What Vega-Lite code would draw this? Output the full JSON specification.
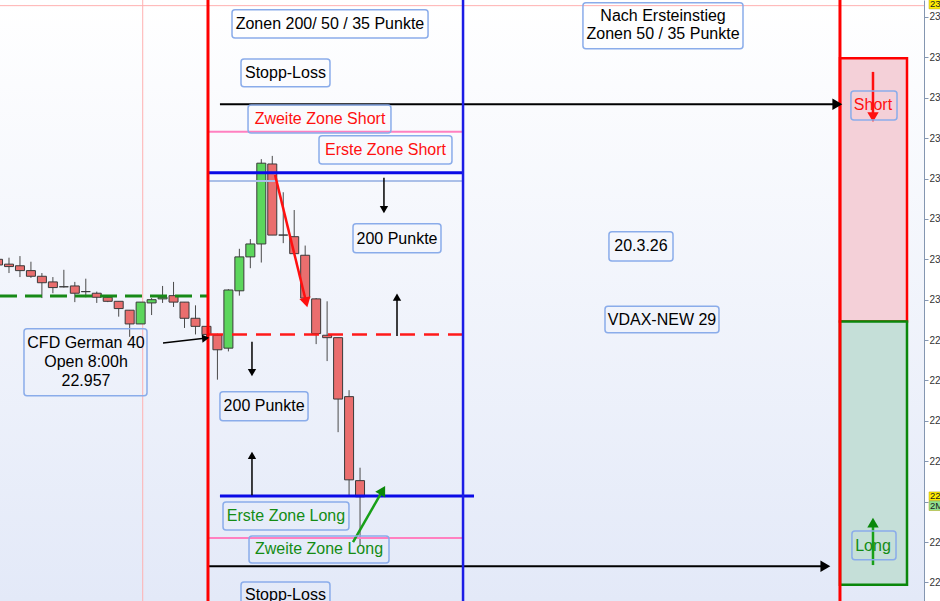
{
  "$schema": "https://vega.github.io/schema/vega-lite/v6.json",
  "width": 924,
  "height": 601,
  "autosize": {"type": "none"},
  "padding": {"left": 0, "top": 0, "right": 16, "bottom": 0},
  "background": "#ffffff",
  "config": {"view": {"stroke": null}, "font": "Liberation Sans", "scale": {"continuousPadding": 0}},
  "resolve": {"scale": {"color": "independent", "fill": "independent", "stroke": "independent"}},
  "datasets": {
    "bg": [{"x": -0.82, "x2": 83.41, "y": 22627, "y2": 23371}],
    "candles": [
      {"i": -1, "o": 23050, "h": 23055, "l": 23040, "c": 23043, "dir": "down"},
      {"i": 0, "o": 23044, "h": 23052, "l": 23033, "c": 23041, "dir": "down"},
      {"i": 1, "o": 23042, "h": 23054, "l": 23028, "c": 23036, "dir": "down"},
      {"i": 2, "o": 23036, "h": 23047, "l": 23027, "c": 23029, "dir": "down"},
      {"i": 3, "o": 23029, "h": 23033, "l": 23002, "c": 23021, "dir": "down"},
      {"i": 4, "o": 23022, "h": 23028, "l": 23008, "c": 23015, "dir": "down"},
      {"i": 5, "o": 23016, "h": 23037, "l": 23015, "c": 23016, "dir": "flat"},
      {"i": 6, "o": 23017, "h": 23022, "l": 22997, "c": 23008, "dir": "down"},
      {"i": 7, "o": 23010, "h": 23026, "l": 23003, "c": 23010, "dir": "flat"},
      {"i": 8, "o": 23008, "h": 23010, "l": 22996, "c": 23003, "dir": "down"},
      {"i": 9, "o": 23003, "h": 23005, "l": 22997, "c": 22998, "dir": "down"},
      {"i": 10, "o": 22998, "h": 22998, "l": 22979, "c": 22989, "dir": "down"},
      {"i": 11, "o": 22987, "h": 22987, "l": 22954, "c": 22970, "dir": "down"},
      {"i": 12, "o": 22970, "h": 22997, "l": 22970, "c": 22997, "dir": "up"},
      {"i": 13, "o": 22996, "h": 23002, "l": 22981, "c": 23000, "dir": "up"},
      {"i": 14, "o": 23001, "h": 23017, "l": 22996, "c": 23003, "dir": "up"},
      {"i": 15, "o": 23005, "h": 23022, "l": 22991, "c": 22997, "dir": "down"},
      {"i": 16, "o": 22997, "h": 22997, "l": 22965, "c": 22977, "dir": "down"},
      {"i": 17, "o": 22977, "h": 22993, "l": 22957, "c": 22967, "dir": "down"},
      {"i": 18, "o": 22967, "h": 22967, "l": 22952, "c": 22957, "dir": "down"},
      {"i": 19, "o": 22956, "h": 22958, "l": 22901, "c": 22938, "dir": "down"},
      {"i": 20, "o": 22940, "h": 23013, "l": 22936, "c": 23012, "dir": "up"},
      {"i": 21, "o": 23011, "h": 23063, "l": 23005, "c": 23053, "dir": "up"},
      {"i": 22, "o": 23053, "h": 23075, "l": 23039, "c": 23069, "dir": "up"},
      {"i": 23, "o": 23069, "h": 23174, "l": 23046, "c": 23169, "dir": "up"},
      {"i": 24, "o": 23168, "h": 23178, "l": 23080, "c": 23080, "dir": "down"},
      {"i": 25, "o": 23080, "h": 23133, "l": 23070, "c": 23080, "dir": "flat"},
      {"i": 26, "o": 23078, "h": 23111, "l": 23057, "c": 23057, "dir": "down"},
      {"i": 27, "o": 23055, "h": 23067, "l": 23002, "c": 23002, "dir": "down"},
      {"i": 28, "o": 23001, "h": 23002, "l": 22945, "c": 22958, "dir": "down"},
      {"i": 29, "o": 22956, "h": 22998, "l": 22924, "c": 22953, "dir": "down"},
      {"i": 30, "o": 22953, "h": 22953, "l": 22836, "c": 22877, "dir": "down"},
      {"i": 31, "o": 22880, "h": 22888, "l": 22756, "c": 22777, "dir": "down"},
      {"i": 32, "o": 22776, "h": 22792, "l": 22696, "c": 22756, "dir": "down"}
    ],
    "zones": [
      {"zone": "Short", "x": 75.75, "x2": 81.86, "y": 22973, "y2": 23299},
      {"zone": "Long", "x": 75.75, "x2": 81.86, "y": 22647, "y2": 22973}
    ],
    "hlines": [
      {"kind": "greenDash", "x": -0.82, "x2": 18.14, "y": 23004.7},
      {"kind": "redDash", "x": 18.14, "x2": 41.39, "y": 22957},
      {"kind": "lightblue", "x": 18.14, "x2": 41.39, "y": 23147},
      {"kind": "pink", "x": 18.14, "x2": 41.39, "y": 23208},
      {"kind": "pink", "x": 18.14, "x2": 41.39, "y": 22705},
      {"kind": "blue", "x": 18.14, "x2": 41.39, "y": 23157},
      {"kind": "blue", "x": 19.23, "x2": 42.39, "y": 22757},
      {"kind": "black", "x": 19.23, "x2": 75.3, "y": 23242},
      {"kind": "black", "x": 18.14, "x2": 74.2, "y": 22670}
    ],
    "vlines": [
      {"kind": "red", "x": 18.14},
      {"kind": "blue", "x": 41.39},
      {"kind": "red", "x": 75.75}
    ],
    "cross": [{"x": 12.19, "y": 23364}],
    "arrows": [
      {"tone": "black", "x": 34.18, "y": 23151, "x2": 34.18, "y2": 23113},
      {"tone": "black", "x": 35.37, "y": 22955, "x2": 35.37, "y2": 23001},
      {"tone": "black", "x": 22.15, "y": 22948, "x2": 22.15, "y2": 22911},
      {"tone": "black", "x": 22.15, "y": 22758, "x2": 22.15, "y2": 22806},
      {"tone": "black", "x": 14.04, "y": 22946.5, "x2": 17.82, "y2": 22952.2},
      {"tone": "red", "x": 24.25, "y": 23154.5, "x2": 27.05, "y2": 22999},
      {"tone": "green", "x": 31.36, "y": 22700, "x2": 33.99, "y2": 22762},
      {"tone": "red", "x": 78.76, "y": 23282, "x2": 78.76, "y2": 23228},
      {"tone": "green", "x": 78.76, "y": 22671.5, "x2": 78.76, "y2": 22722}
    ],
    "heads": [
      {"tone": "black", "head": "small", "x": 34.18, "y": 23113, "angle": 180},
      {"tone": "black", "head": "small", "x": 35.37, "y": 23001.6, "angle": 0},
      {"tone": "black", "head": "small", "x": 22.15, "y": 22911.2, "angle": 180},
      {"tone": "black", "head": "small", "x": 22.15, "y": 22805.9, "angle": 0},
      {"tone": "black", "head": "small", "x": 17.82, "y": 22952.2, "angle": 84},
      {"tone": "red", "head": "big", "x": 27.05, "y": 22998.7, "angle": 166},
      {"tone": "green", "head": "big", "x": 33.99, "y": 22762.3, "angle": 30},
      {"tone": "red", "head": "big", "x": 78.76, "y": 23228, "angle": 180},
      {"tone": "green", "head": "big", "x": 78.76, "y": 22722, "angle": 0},
      {"tone": "black", "head": "big", "x": 75.36, "y": 23242, "angle": 90},
      {"tone": "black", "head": "big", "x": 74.27, "y": 22670, "angle": 90}
    ],
    "boxes": [
      {"x": 20.33, "x2": 38.2, "y": 23359, "y2": 23324},
      {"x": 21.15, "x2": 29.26, "y": 23298, "y2": 23263.5},
      {"x": 21.79, "x2": 34.82, "y": 23241, "y2": 23206.5},
      {"x": 28.26, "x2": 40.38, "y": 23203, "y2": 23168},
      {"x": 31.36, "x2": 39.38, "y": 23094, "y2": 23058},
      {"x": 54.69, "x2": 60.53, "y": 23084, "y2": 23048},
      {"x": 54.33, "x2": 64.72, "y": 22992, "y2": 22959},
      {"x": 52.32, "x2": 66.91, "y": 23367.5, "y2": 23310.6},
      {"x": 1.367, "x2": 12.58, "y": 22964, "y2": 22881},
      {"x": 19.23, "x2": 27.26, "y": 22886, "y2": 22850},
      {"x": 19.51, "x2": 30.99, "y": 22749.6, "y2": 22715},
      {"x": 21.88, "x2": 34.64, "y": 22707.5, "y2": 22674},
      {"x": 21.15, "x2": 29.26, "y": 22650.5, "y2": 22610},
      {"x": 76.75, "x2": 80.95, "y": 23258.5, "y2": 23222.6},
      {"x": 76.84, "x2": 80.86, "y": 22713.7, "y2": 22678}
    ],
    "texts": [
      {"x": 29.26, "y": 23341.5, "text": "Zonen 200/ 50 / 35 Punkte", "tone": "black"},
      {"x": 25.2, "y": 23281, "text": "Stopp-Loss", "tone": "black"},
      {"x": 28.35, "y": 23224, "text": "Zweite Zone Short", "tone": "red"},
      {"x": 34.32, "y": 23185.5, "text": "Erste Zone Short", "tone": "red"},
      {"x": 35.37, "y": 23075, "text": "200 Punkte", "tone": "black"},
      {"x": 57.61, "y": 23067, "text": "20.3.26", "tone": "black"},
      {"x": 59.53, "y": 22975, "text": "VDAX-NEW 29", "tone": "black"},
      {"x": 59.62, "y": 23351, "text": "Nach Ersteinstieg", "tone": "black"},
      {"x": 59.62, "y": 23329, "text": "Zonen 50 / 35 Punkte", "tone": "black"},
      {"x": 7.02, "y": 22946.5, "text": "CFD German 40", "tone": "black"},
      {"x": 7.02, "y": 22923, "text": "Open 8:00h", "tone": "black"},
      {"x": 7.02, "y": 22899, "text": "22.957", "tone": "black"},
      {"x": 23.25, "y": 22868.5, "text": "200 Punkte", "tone": "black"},
      {"x": 25.25, "y": 22732, "text": "Erste Zone Long", "tone": "green"},
      {"x": 28.26, "y": 22691, "text": "Zweite Zone Long", "tone": "green"},
      {"x": 25.2, "y": 22634, "text": "Stopp-Loss", "tone": "black"},
      {"x": 78.76, "y": 23241, "text": "Short", "tone": "red"},
      {"x": 78.76, "y": 22695, "text": "Long", "tone": "green"}
    ],
    "markers": [
      {"kind": "yellow", "x": 83.87, "x2": 85.6, "y": 23373, "y2": 23360, "label": "23.365", "ty": 23366},
      {"kind": "yellow", "x": 83.87, "x2": 85.6, "y": 22762, "y2": 22751.5, "label": "22.757", "ty": 22756.5},
      {"kind": "green", "x": 83.87, "x2": 85.6, "y": 22751, "y2": 22739, "label": "2M", "ty": 22745}
    ]
  },
  "layer": [
    {
      "data": {"name": "bg"},
      "mark": {"type": "rect", "color": {"gradient": "linear", "x1": 0, "y1": 0, "x2": 0, "y2": 1, "stops": [{"offset": 0, "color": "#ffffff"}, {"offset": 1, "color": "#e3e9f8"}]}},
      "encoding": {
        "x": {"field": "x", "type": "quantitative", "scale": {"domain": [-0.82, 83.41], "nice": false, "zero": false, "padding": 0}, "axis": null},
        "x2": {"field": "x2"},
        "y": {"field": "y", "type": "quantitative", "scale": {"domain": [22627, 23371], "nice": false, "zero": false, "padding": 0},
          "axis": {"orient": "right", "values": [22650, 22700, 22750, 22800, 22850, 22900, 22950, 23000, 23050, 23100, 23150, 23200, 23250, 23300, 23350],
            "grid": false, "domainColor": "#8496b0", "tickColor": "#8496b0", "tickSize": 4, "labelFontSize": 10, "labelColor": "#333333",
            "labelPadding": 1, "labelFont": "Liberation Sans", "labelOverlap": false, "labelBound": false, "title": null,
            "labelExpr": "datum.value == 22750 ? '' : replace(format(datum.value, ','), ',', '.')"}},
        "y2": {"field": "y2"}
      }
    },
    {
      "data": {"name": "cross"},
      "mark": {"type": "rule", "color": "#ffb0b0", "strokeWidth": 1},
      "encoding": {"x": {"field": "x", "type": "quantitative", "scale": {"domain": [-0.82, 83.41], "nice": false, "zero": false, "padding": 0}, "axis": null}}
    },
    {
      "data": {"name": "cross"},
      "mark": {"type": "rule", "color": "#ffb0b0", "strokeWidth": 1},
      "encoding": {"y": {"field": "y", "type": "quantitative", "scale": {"domain": [22627, 23371], "nice": false, "zero": false, "padding": 0}}}
    },
    {
      "data": {"name": "zones"},
      "mark": {"type": "rect", "strokeWidth": 2.5},
      "encoding": {
        "x": {"field": "x", "type": "quantitative", "scale": {"domain": [-0.82, 83.41], "nice": false, "zero": false, "padding": 0}, "axis": null},
        "x2": {"field": "x2"},
        "y": {"field": "y", "type": "quantitative", "scale": {"domain": [22627, 23371], "nice": false, "zero": false, "padding": 0}},
        "y2": {"field": "y2"},
        "fill": {"field": "zone", "type": "nominal", "scale": {"domain": ["Short", "Long"], "range": ["#f4d0d8", "#c5dfd8"]}, "legend": null},
        "stroke": {"field": "zone", "type": "nominal", "scale": {"domain": ["Short", "Long"], "range": ["#ff0000", "#0a870a"]}, "legend": null}
      }
    },
    {
      "data": {"name": "candles"},
      "mark": {"type": "rule", "color": "#4a4a4a", "strokeWidth": 1, "clip": true},
      "encoding": {
        "x": {"field": "i", "type": "quantitative", "scale": {"domain": [-0.82, 83.41], "nice": false, "zero": false, "padding": 0}, "axis": null},
        "y": {"field": "l", "type": "quantitative", "scale": {"domain": [22627, 23371], "nice": false, "zero": false, "padding": 0}},
        "y2": {"field": "h"}
      }
    },
    {
      "data": {"name": "candles"},
      "mark": {"type": "bar", "orient": "vertical", "size": 9, "stroke": "#3a3a3a", "strokeWidth": 1, "clip": true},
      "encoding": {
        "x": {"field": "i", "type": "quantitative", "scale": {"domain": [-0.82, 83.41], "nice": false, "zero": false, "padding": 0}, "axis": null},
        "y": {"field": "o", "type": "quantitative", "scale": {"domain": [22627, 23371], "nice": false, "zero": false, "padding": 0}},
        "y2": {"field": "c"},
        "fill": {"field": "dir", "type": "nominal", "scale": {"domain": ["up", "down", "flat"], "range": ["#5cd65c", "#ea6e6e", "#333333"]}, "legend": null}
      }
    },
    {
      "data": {"name": "hlines"},
      "transform": [{"filter": "datum.kind == 'greenDash'"}],
      "mark": {"type": "rule", "color": "#178a17", "strokeWidth": 3, "strokeDash": [17, 8]},
      "encoding": {"x": {"field": "x", "type": "quantitative", "scale": {"domain": [-0.82, 83.41], "nice": false, "zero": false, "padding": 0}, "axis": null}, "x2": {"field": "x2"}, "y": {"field": "y", "type": "quantitative", "scale": {"domain": [22627, 23371], "nice": false, "zero": false, "padding": 0}}}
    },
    {
      "data": {"name": "hlines"},
      "transform": [{"filter": "datum.kind == 'redDash'"}],
      "mark": {"type": "rule", "color": "#ff1a1a", "strokeWidth": 2.5, "strokeDash": [15, 9]},
      "encoding": {"x": {"field": "x", "type": "quantitative", "scale": {"domain": [-0.82, 83.41], "nice": false, "zero": false, "padding": 0}, "axis": null}, "x2": {"field": "x2"}, "y": {"field": "y", "type": "quantitative", "scale": {"domain": [22627, 23371], "nice": false, "zero": false, "padding": 0}}}
    },
    {
      "data": {"name": "hlines"},
      "transform": [{"filter": "datum.kind == 'lightblue'"}],
      "mark": {"type": "rule", "color": "#aabfe8", "strokeWidth": 2},
      "encoding": {"x": {"field": "x", "type": "quantitative", "scale": {"domain": [-0.82, 83.41], "nice": false, "zero": false, "padding": 0}, "axis": null}, "x2": {"field": "x2"}, "y": {"field": "y", "type": "quantitative", "scale": {"domain": [22627, 23371], "nice": false, "zero": false, "padding": 0}}}
    },
    {
      "data": {"name": "hlines"},
      "transform": [{"filter": "datum.kind == 'pink'"}],
      "mark": {"type": "rule", "color": "#ff80c0", "strokeWidth": 2},
      "encoding": {"x": {"field": "x", "type": "quantitative", "scale": {"domain": [-0.82, 83.41], "nice": false, "zero": false, "padding": 0}, "axis": null}, "x2": {"field": "x2"}, "y": {"field": "y", "type": "quantitative", "scale": {"domain": [22627, 23371], "nice": false, "zero": false, "padding": 0}}}
    },
    {
      "data": {"name": "hlines"},
      "transform": [{"filter": "datum.kind == 'blue'"}],
      "mark": {"type": "rule", "color": "#0a0ae6", "strokeWidth": 3},
      "encoding": {"x": {"field": "x", "type": "quantitative", "scale": {"domain": [-0.82, 83.41], "nice": false, "zero": false, "padding": 0}, "axis": null}, "x2": {"field": "x2"}, "y": {"field": "y", "type": "quantitative", "scale": {"domain": [22627, 23371], "nice": false, "zero": false, "padding": 0}}}
    },
    {
      "data": {"name": "hlines"},
      "transform": [{"filter": "datum.kind == 'black'"}],
      "mark": {"type": "rule", "color": "#000000", "strokeWidth": 2},
      "encoding": {"x": {"field": "x", "type": "quantitative", "scale": {"domain": [-0.82, 83.41], "nice": false, "zero": false, "padding": 0}, "axis": null}, "x2": {"field": "x2"}, "y": {"field": "y", "type": "quantitative", "scale": {"domain": [22627, 23371], "nice": false, "zero": false, "padding": 0}}}
    },
    {
      "data": {"name": "vlines"},
      "transform": [{"filter": "datum.kind == 'red'"}],
      "mark": {"type": "rule", "color": "#ff0000", "strokeWidth": 3},
      "encoding": {"x": {"field": "x", "type": "quantitative", "scale": {"domain": [-0.82, 83.41], "nice": false, "zero": false, "padding": 0}, "axis": null}}
    },
    {
      "data": {"name": "vlines"},
      "transform": [{"filter": "datum.kind == 'blue'"}],
      "mark": {"type": "rule", "color": "#1c1ce6", "strokeWidth": 2.5},
      "encoding": {"x": {"field": "x", "type": "quantitative", "scale": {"domain": [-0.82, 83.41], "nice": false, "zero": false, "padding": 0}, "axis": null}}
    },
    {
      "data": {"name": "arrows"},
      "transform": [{"filter": "datum.tone == 'black'"}],
      "mark": {"type": "rule", "color": "#000000", "strokeWidth": 1.5},
      "encoding": {"x": {"field": "x", "type": "quantitative", "scale": {"domain": [-0.82, 83.41], "nice": false, "zero": false, "padding": 0}, "axis": null}, "x2": {"field": "x2"}, "y": {"field": "y", "type": "quantitative", "scale": {"domain": [22627, 23371], "nice": false, "zero": false, "padding": 0}}, "y2": {"field": "y2"}}
    },
    {
      "data": {"name": "arrows"},
      "transform": [{"filter": "datum.tone == 'red'"}],
      "mark": {"type": "rule", "strokeWidth": 2.5, "color": "#ff1010"},
      "encoding": {"x": {"field": "x", "type": "quantitative", "scale": {"domain": [-0.82, 83.41], "nice": false, "zero": false, "padding": 0}, "axis": null}, "x2": {"field": "x2"}, "y": {"field": "y", "type": "quantitative", "scale": {"domain": [22627, 23371], "nice": false, "zero": false, "padding": 0}}, "y2": {"field": "y2"}}
    },
    {
      "data": {"name": "arrows"},
      "transform": [{"filter": "datum.tone == 'green'"}],
      "mark": {"type": "rule", "strokeWidth": 2.5, "color": "#18a018"},
      "encoding": {"x": {"field": "x", "type": "quantitative", "scale": {"domain": [-0.82, 83.41], "nice": false, "zero": false, "padding": 0}, "axis": null}, "x2": {"field": "x2"}, "y": {"field": "y", "type": "quantitative", "scale": {"domain": [22627, 23371], "nice": false, "zero": false, "padding": 0}}, "y2": {"field": "y2"}}
    },
    {
      "data": {"name": "heads"},
      "transform": [{"filter": "datum.head == 'small'"}],
      "mark": {"type": "point", "shape": "triangle", "filled": true, "size": 70, "color": "#000000", "opacity": 1},
      "encoding": {
        "x": {"field": "x", "type": "quantitative", "scale": {"domain": [-0.82, 83.41], "nice": false, "zero": false, "padding": 0}, "axis": null},
        "y": {"field": "y", "type": "quantitative", "scale": {"domain": [22627, 23371], "nice": false, "zero": false, "padding": 0}},
        "angle": {"field": "angle", "type": "quantitative", "scale": {"domain": [0, 360], "range": [0, 360]}}
      }
    },
    {
      "data": {"name": "heads"},
      "transform": [{"filter": "datum.head == 'big'"}],
      "mark": {"type": "point", "shape": "triangle", "filled": true, "size": 130, "opacity": 1},
      "encoding": {
        "x": {"field": "x", "type": "quantitative", "scale": {"domain": [-0.82, 83.41], "nice": false, "zero": false, "padding": 0}, "axis": null},
        "y": {"field": "y", "type": "quantitative", "scale": {"domain": [22627, 23371], "nice": false, "zero": false, "padding": 0}},
        "angle": {"field": "angle", "type": "quantitative", "scale": {"domain": [0, 360], "range": [0, 360]}},
        "color": {"field": "tone", "type": "nominal", "scale": {"domain": ["black", "red", "green"], "range": ["#000000", "#ff1010", "#0a870a"]}, "legend": null}
      }
    },
    {
      "data": {"name": "boxes"},
      "mark": {"type": "rect", "filled": false, "stroke": "#8aacea", "strokeWidth": 1.5, "cornerRadius": 3, "clip": true},
      "encoding": {
        "x": {"field": "x", "type": "quantitative", "scale": {"domain": [-0.82, 83.41], "nice": false, "zero": false, "padding": 0}, "axis": null}, "x2": {"field": "x2"},
        "y": {"field": "y", "type": "quantitative", "scale": {"domain": [22627, 23371], "nice": false, "zero": false, "padding": 0}}, "y2": {"field": "y2"}
      }
    },
    {
      "data": {"name": "texts"},
      "mark": {"type": "text", "fontSize": 16, "font": "Liberation Sans", "align": "center", "baseline": "middle"},
      "encoding": {
        "x": {"field": "x", "type": "quantitative", "scale": {"domain": [-0.82, 83.41], "nice": false, "zero": false, "padding": 0}, "axis": null},
        "y": {"field": "y", "type": "quantitative", "scale": {"domain": [22627, 23371], "nice": false, "zero": false, "padding": 0}},
        "text": {"field": "text"},
        "color": {"field": "tone", "type": "nominal", "scale": {"domain": ["black", "red", "green"], "range": ["#000000", "#ff1010", "#148c14"]}, "legend": null}
      }
    },
    {
      "data": {"name": "markers"},
      "mark": {"type": "rect", "strokeWidth": 0.5, "stroke": "#b0a000"},
      "encoding": {
        "x": {"field": "x", "type": "quantitative", "scale": {"domain": [-0.82, 83.41], "nice": false, "zero": false, "padding": 0}, "axis": null}, "x2": {"field": "x2"},
        "y": {"field": "y", "type": "quantitative", "scale": {"domain": [22627, 23371], "nice": false, "zero": false, "padding": 0}}, "y2": {"field": "y2"},
        "fill": {"field": "kind", "type": "nominal", "scale": {"domain": ["yellow", "green"], "range": ["#ffee00", "#8fe08f"]}, "legend": null}
      }
    },
    {
      "data": {"name": "markers"},
      "mark": {"type": "text", "fontSize": 9.5, "align": "left", "baseline": "middle", "color": "#222222", "dx": 1},
      "encoding": {
        "x": {"field": "x", "type": "quantitative", "scale": {"domain": [-0.82, 83.41], "nice": false, "zero": false, "padding": 0}, "axis": null},
        "y": {"field": "ty", "type": "quantitative", "scale": {"domain": [22627, 23371], "nice": false, "zero": false, "padding": 0}},
        "text": {"field": "label"}
      }
    }
  ]
}
